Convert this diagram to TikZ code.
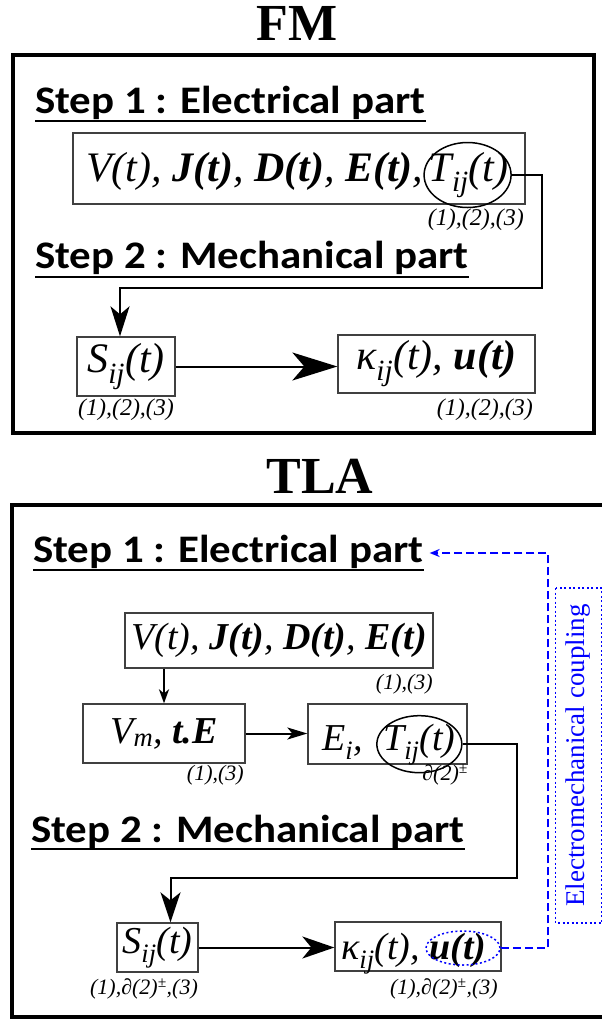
\documentclass[tikz,border=0pt]{standalone}
\usepackage{fontspec}
\setmainfont{Liberation Serif}
\newfontfamily\stepfont{Carlito}[FakeStretch=1.1]
\usetikzlibrary{arrows.meta,shapes.geometric}
\newcommand\bi[1]{{\bfseries #1}}
\begin{document}
\begin{tikzpicture}[x=1pt,y=-1pt,
  title/.style={font=\fontsize{52}{52}\selectfont\bfseries, inner sep=0, anchor=base},
  outer/.style={line width=4pt},
  steptxt/.style={font=\stepfont\bfseries\fontsize{39}{39}\selectfont, inner sep=0, anchor=base west},
  underl/.style={line width=2pt},
  tbox/.style={draw=black!75, line width=1.3pt, inner sep=0},
  mA/.style={font=\fontsize{42}{42}\selectfont\itshape, inner sep=0},
  mB/.style={font=\fontsize{38}{38}\selectfont\itshape, inner sep=0},
  lblA/.style={font=\fontsize{24}{24}\selectfont\itshape, inner sep=0},
  lblB/.style={font=\fontsize{22}{22}\selectfont\itshape, inner sep=0},
  ell/.style={ellipse, draw, line width=1.5pt, inner sep=0},
  conn/.style={line width=2pt},
  bluedash/.style={draw=blue, line width=2pt, dash pattern=on 8pt off 4pt},
  bluedot/.style={draw=blue, line width=1.5pt, dash pattern=on 2pt off 2.5pt}
]
\useasboundingbox (0,0) rectangle (602,1020);

% ---------------- FM ----------------
\node[title] (fmtitle) at (297,40) {FM};
\draw[outer] (13,55) rectangle (594,433);

\node[steptxt] (fs1) at (35,113) {Step 1 : Electrical part};
\draw[underl] ([yshift=-8pt]fs1.base west) -- ([yshift=-8pt]fs1.base east);

\node[tbox, minimum width=452pt, minimum height=71pt] (fmV) at (299,168.5) {};
\node[mA, anchor=base west] (fmVt) at (86,181) {V(t), \bi{J(t)}, \bi{D(t)}, \bi{E(t)},};
\node[mA, anchor=base west] (fmT) at ([xshift=5pt]fmVt.base east) {T\textsubscript{ij}(t)};
\node[ell, minimum width=87pt, minimum height=65pt] (fmTe) at ([xshift=-1pt]fmT.center) {};
\node[lblA, anchor=east] (fmVl) at (524,220) {(1),(2),(3)};

\node[steptxt] (fs2) at (35,268) {Step 2 : Mechanical part};
\draw[underl] ([yshift=-9pt]fs2.base west) -- ([yshift=-9pt]fs2.base east);

\node[tbox, mA, minimum width=98pt, minimum height=59pt] (fmS) at (126,366.5) {S\textsubscript{ij}(t)};
\node[tbox, mA, minimum width=197pt, minimum height=58pt] (fmK) at (436.5,364) {κ\textsubscript{ij}(t), \bi{u(t)}};
\node[lblA] (fmSl) at (126,410) {(1),(2),(3)};
\node[lblA, anchor=east] (fmKl) at (533,410) {(1),(2),(3)};

\coordinate (fmc) at (542,288);
\draw[conn, -{Stealth[length=30pt,width=19pt,inset=8pt]}] (fmTe.east) -| (fmc) -| ([xshift=-6pt]fmS.north);
\draw[conn, -{Stealth[length=45pt,width=28pt,inset=12pt]}] (fmS.east) -- (fmS.east -| fmK.west);

% ---------------- TLA ----------------
\node[title] (tlatitle) at (320,493) {TLA};
\draw[outer] (606,505) -- (12,505) -- (12,1017) -- (606,1017);

\node[steptxt] (ts1) at (33,562) {Step 1 : Electrical part};
\draw[underl] ([yshift=-8pt]ts1.base west) -- ([yshift=-8pt]ts1.base east);

\node[tbox, mB, minimum width=308pt, minimum height=55pt] (tV) at (279,640.5) {V(t), \bi{J(t)}, \bi{D(t)}, \bi{E(t)}};
\node[lblB, anchor=east] (tVl) at (433,684) {(1),(3)};

\node[tbox, mB, minimum width=162pt, minimum height=59pt] (tVm) at (164,733.5) {V\textsubscript{m}, \bi{t.E}};
\node[lblB, anchor=east] (tVml) at (244,775) {(1),(3)};

\node[tbox, minimum width=159pt, minimum height=60pt] (tEi) at (387.5,734) {};
\node[mB, anchor=base west] (tEt) at (322,750) {E\textsubscript{i},};
\node[mB, anchor=base west] (tTt) at (383,750) {T\textsubscript{ij}(t)};
\node[ell, minimum width=85pt, minimum height=57pt] (tTe) at (tTt.center) {};
\node[lblB, anchor=east] (tEil) at (468,775) {∂(2)\textsuperscript{±}};

\node[steptxt] (ts2) at (31,842) {Step 2 : Mechanical part};
\draw[underl] ([yshift=-7pt]ts2.base west) -- ([yshift=-7pt]ts2.base east);

\node[tbox, mB, minimum width=81pt, minimum height=49pt] (tS) at (157.5,947.5) {S\textsubscript{ij}(t)};
\node[lblB] (tSl) at (144,989) {(1),∂(2)\textsuperscript{±},(3)};

\node[tbox, minimum width=166pt, minimum height=49pt] (tK) at (418,946.5) {};
\node[mB, anchor=base west] (tKt) at (341,959) {κ\textsubscript{ij}(t),};
\node[mB, anchor=base west] (tUt) at ([xshift=9pt]tKt.base east) {\bi{u(t)}};
\node[ellipse, bluedot, inner sep=0, minimum width=74pt, minimum height=34pt] (tUe) at (463,948) {};
\node[lblB, anchor=east] (tKl) at (498,989) {(1),∂(2)\textsuperscript{±},(3)};

\draw[conn, -{Stealth[length=14pt,width=10pt,inset=4pt]}] (tVm.north |- tV.south) -- (tVm.north);
\draw[conn, -{Stealth[length=20pt,width=12pt,inset=5pt]}] (tVm.east) -- (tVm.east -| tEi.west);
\coordinate (tc) at (517,878);
\draw[conn, -{Stealth[length=30pt,width=20pt,inset=8pt]}] (tTe.east) -| (tc) -| ([xshift=13pt]tS.north);
\draw[conn, -{Stealth[length=32pt,width=22pt,inset=9pt]}] (tS.east) -- (tS.east -| tK.west);

% electromechanical coupling
\coordinate (bc) at (548,553);
\draw[bluedash, -{Stealth[length=10pt,width=8pt]}] (tUe.east) -| (bc) -- ([xshift=6pt]ts1.east |- bc);
\node[bluedot, rotate=90, minimum width=335pt, minimum height=46pt, inner sep=0, text=blue,
  font=\fontsize{27}{27}\selectfont] (coup) at (578.5,755.5) {Electromechanical coupling};
\end{tikzpicture}
\end{document}
